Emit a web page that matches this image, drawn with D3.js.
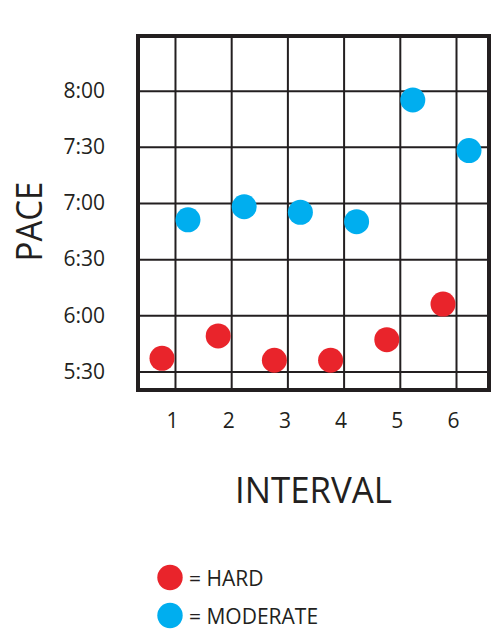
<!DOCTYPE html>
<html>
<head>
<meta charset="utf-8">
<script src="https://cdn.jsdelivr.net/npm/d3@7"></script>
<style>
  html, body { margin: 0; padding: 0; background: #fff; }
  svg { display: block; }
  text { font-family: "Open Sans", sans-serif; fill: #231f20; }
</style>
</head>
<body>
<svg id="chart" width="501" height="630"></svg>
<script>
// ---- data ----
const intervals = [1, 2, 3, 4, 5, 6];
const hardPace = [337, 349, 336, 336, 347, 366];       // seconds per mile
const moderatePace = [411, 418, 415, 410, 475, 448];   // seconds per mile
const yTickValues = [330, 360, 390, 420, 450, 480];
const yTickLabels = ["5:30", "6:00", "6:30", "7:00", "7:30", "8:00"];
const seriesNames = ["HARD", "MODERATE"];
const seriesColors = ["#e9242b", "#00aeef"];

// ---- layout ----
const svg = d3.select("#chart");
const plotLeft = 138, plotRight = 489, plotTop = 36, plotBottom = 390;
const W = plotRight - plotLeft, H = plotBottom - plotTop;
const ink = "#231f20";

const x = d3.scaleLinear().domain([0.342, 6.587]).range([0, W]);
const y = d3.scaleLinear().domain([320.1, 509.2]).range([H, 0]);

const g = svg.append("g").attr("transform", `translate(${plotLeft},${plotTop})`);

// x axis with vertical grid lines
const xAxis = g.append("g")
  .attr("transform", `translate(0,${H})`)
  .call(d3.axisBottom(x).tickValues(intervals).tickSize(-H).tickPadding(23).tickFormat(d3.format("d")));
xAxis.select(".domain").remove();
xAxis.selectAll("line").attr("stroke", ink).attr("stroke-width", 2);
xAxis.selectAll("text")
  .attr("dx", -3)
  .style("font-family", "'Open Sans', sans-serif")
  .style("font-size", "21px")
  .attr("fill", ink);

// y axis with horizontal grid lines
const yAxis = g.append("g")
  .call(d3.axisLeft(y).tickValues(yTickValues).tickSize(-W).tickPadding(33)
    .tickFormat((d, i) => yTickLabels[i]));
yAxis.select(".domain").remove();
yAxis.selectAll("line").attr("stroke", ink).attr("stroke-width", 2);
yAxis.selectAll("text")
  .style("font-family", "'Open Sans', sans-serif")
  .style("font-size", "21px")
  .attr("fill", ink);

// border
g.append("rect")
  .attr("x", 0).attr("y", 0).attr("width", W).attr("height", H)
  .attr("fill", "none").attr("stroke", ink).attr("stroke-width", 4);

// points
const dodge = 13; // pixel offset of each series from the interval line
const series = [hardPace, moderatePace];
series.forEach((vals, si) => {
  g.append("g").selectAll("circle")
    .data(vals)
    .join("circle")
    .attr("cx", (d, i) => x(intervals[i]) + (si === 0 ? -dodge : dodge))
    .attr("cy", d => y(d))
    .attr("r", 12.5)
    .attr("fill", seriesColors[si]);
});

// axis titles
svg.append("text")
  .attr("transform", "translate(42,221.5) rotate(-90)")
  .attr("text-anchor", "middle")
  .attr("textLength", 80)
  .attr("lengthAdjust", "spacingAndGlyphs")
  .style("font-size", "36px")
  .text("PACE");

svg.append("text")
  .attr("x", 313.5).attr("y", 502.5)
  .attr("text-anchor", "middle")
  .attr("textLength", 157)
  .attr("lengthAdjust", "spacingAndGlyphs")
  .style("font-size", "36px")
  .text("INTERVAL");

// legend
const legend = svg.append("g");
const legendY = [577.5, 615.5];
seriesNames.forEach((name, i) => {
  legend.append("circle").attr("cx", 170).attr("cy", legendY[i]).attr("r", 12.7).attr("fill", seriesColors[i]);
  legend.append("text")
    .attr("x", 189).attr("y", legendY[i] + 8.5)
    .style("font-size", "21px")
    .text("= " + name);
});
</script>
</body>
</html>
